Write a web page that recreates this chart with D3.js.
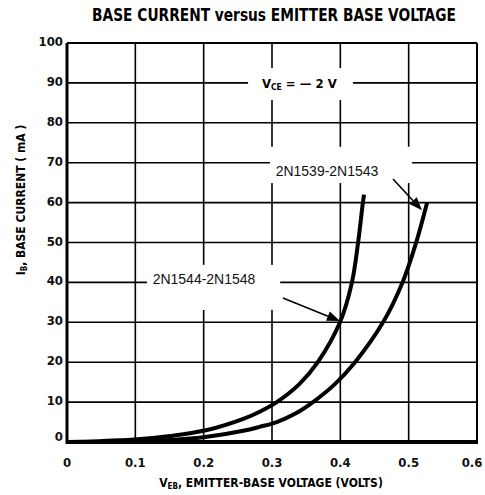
<!DOCTYPE html>
<html><head><meta charset="utf-8">
<script src="https://cdn.jsdelivr.net/npm/d3@7"></script>
<style>body{margin:0;background:#fff}svg{display:block}</style>
</head><body>
<script>
// Data
const xTicks = [0, 0.1, 0.2, 0.3, 0.4, 0.5, 0.6];
const yTicks = [0, 10, 20, 30, 40, 50, 60, 70, 80, 90, 100];
const curve1544 = [[0,0],[0.048,0.2],[0.098,0.6],[0.151,1.5],[0.205,3],[0.258,5.8],[0.282,7.6],[0.307,10],[0.34,14.5],[0.367,20],[0.3995,30],[0.417,40],[0.426,50],[0.433,60],[0.4347,62]];
const curve1539 = [[0,0],[0.098,0.2],[0.151,0.5],[0.205,1.3],[0.258,2.8],[0.282,3.8],[0.307,5],[0.335,7.2],[0.36,10],[0.392,14.5],[0.4215,20],[0.4625,30],[0.491,40],[0.511,50],[0.527,60]];
const seriesNames = ["2N1544-2N1548", "2N1539-2N1543"];
const titleText = "BASE CURRENT versus EMITTER BASE VOLTAGE";

const W = 485, H = 495;
const svg = d3.select("body").append("svg").attr("width", W).attr("height", H);
const x = d3.scaleLinear().domain([0, 0.6]).range([67, 477]);
const y = d3.scaleLinear().domain([0, 100]).range([442, 43]);
const font = "'DejaVu Sans Condensed', 'Liberation Sans Narrow', sans-serif";

// gridlines
const g = svg.append("g");
g.selectAll(".vg").data(xTicks.slice(1, -1)).join("line")
  .attr("x1", d => x(d)).attr("x2", d => x(d)).attr("y1", y(100)).attr("y2", y(0))
  .attr("stroke", "#000").attr("stroke-width", 1.6);
g.selectAll(".hg").data(yTicks.slice(1, -1)).join("line")
  .attr("x1", x(0)).attr("x2", x(0.6)).attr("y1", d => y(d)).attr("y2", d => y(d))
  .attr("stroke", "#000").attr("stroke-width", 1.6);

// label boxes (white) breaking the grid
const boxes = [
  [0.265, 93.7, 0.4185, 85.7],
  [0.297, 74.0, 0.505, 64.9],
  [0.117, 44.4, 0.312, 33.1]
];
svg.selectAll(".box").data(boxes).join("rect")
  .attr("x", d => x(d[0])).attr("y", d => y(d[1]))
  .attr("width", d => x(d[2]) - x(d[0])).attr("height", d => y(d[3]) - y(d[1]))
  .attr("fill", "#fff");

// frame
svg.append("line").attr("x1", x(0)).attr("x2", x(0.6)).attr("y1", y(100)).attr("y2", y(100)).attr("stroke", "#000").attr("stroke-width", 2);
svg.append("line").attr("x1", x(0.6)).attr("x2", x(0.6)).attr("y1", y(100)).attr("y2", y(0)).attr("stroke", "#000").attr("stroke-width", 2);
svg.append("line").attr("x1", x(0)).attr("x2", x(0)).attr("y1", y(100)).attr("y2", y(0) + 2).attr("stroke", "#000").attr("stroke-width", 3);
svg.append("line").attr("x1", x(0) - 1).attr("x2", x(0.6) + 1).attr("y1", y(0)).attr("y2", y(0)).attr("stroke", "#000").attr("stroke-width", 4);

// curves
const line = d3.line().x(d => x(d[0])).y(d => y(d[1])).curve(d3.curveCatmullRom.alpha(0.5));
[curve1544, curve1539].forEach(c => {
  svg.append("path").attr("d", line(c)).attr("fill", "none").attr("stroke", "#000")
    .attr("stroke-width", 4).attr("stroke-linecap", "butt").attr("stroke-linejoin", "round");
});

// tick labels
svg.selectAll(".yl").data(yTicks).join("text")
  .attr("x", 63).attr("y", d => y(d) + (d === 0 ? -1 : 3)).attr("text-anchor", "end")
  .attr("font-family", font).attr("font-size", 13).attr("font-weight", "bold").attr("fill", "#111")
  .text(d => d);
svg.selectAll(".xl").data(xTicks).join("text")
  .attr("x", d => x(d) - (d === 0.6 ? 5 : 0)).attr("y", 467).attr("text-anchor", "middle")
  .attr("font-family", font).attr("font-size", 13).attr("font-weight", "bold").attr("fill", "#111")
  .text(d => d === 0 ? "0" : d.toFixed(1));

// title (horizontally condensed)
svg.append("text").attr("transform", "translate(274,21) scale(0.9,1)").attr("text-anchor", "middle")
  .attr("font-family", font).attr("font-size", 17).attr("font-weight", "bold")
  .text(titleText);

// axis titles
const xt = svg.append("text").attr("x", 271).attr("y", 487).attr("text-anchor", "middle")
  .attr("font-family", font).attr("font-size", 12).attr("font-weight", "bold");
xt.append("tspan").text("V");
xt.append("tspan").attr("font-size", 8).attr("dy", 2).text("EB");
xt.append("tspan").attr("dy", -2).text(", EMITTER-BASE VOLTAGE (VOLTS)");

const yt = svg.append("text").attr("transform", "translate(25,200) rotate(-90)").attr("text-anchor", "middle")
  .attr("font-family", font).attr("font-size", 12).attr("font-weight", "bold");
yt.append("tspan").text("I");
yt.append("tspan").attr("font-size", 8).attr("dy", 2).text("B");
yt.append("tspan").attr("dy", -2).text(",  BASE CURRENT   ( mA )");

// VCE annotation
const vt = svg.append("text").attr("x", x(0.34)).attr("y", y(90) + 5).attr("text-anchor", "middle")
  .attr("font-family", font).attr("font-size", 13).attr("font-weight", "bold");
vt.append("tspan").text("V");
vt.append("tspan").attr("font-size", 8.5).attr("dy", 2).text("CE");
vt.append("tspan").attr("dy", -2).text(" = — 2 V");

// series labels
const labels = [
  {name: seriesNames[1], lx: 0.3805, ly: 67.9, ax: 0.477, ay: 65.9, tx: 0.5195, ty: 58.1},
  {name: seriesNames[0], lx: 0.2005, ly: 40.85, ax: 0.316, ay: 36.1, tx: 0.3995, ty: 30.3}
];
labels.forEach(l => {
  svg.append("text").attr("x", x(l.lx)).attr("y", y(l.ly) + 5).attr("text-anchor", "middle")
    .attr("font-family", "'Liberation Sans', Arial, sans-serif").attr("font-size", 14).attr("fill", "#111")
    .text(l.name);
  const x1 = x(l.ax), y1 = y(l.ay), x2 = x(l.tx), y2 = y(l.ty);
  const ang = Math.atan2(y2 - y1, x2 - x1), len = 13, hw = 5;
  const bx = x2 - len * Math.cos(ang), by = y2 - len * Math.sin(ang);
  svg.append("line").attr("x1", x1).attr("y1", y1).attr("x2", bx).attr("y2", by)
    .attr("stroke", "#000").attr("stroke-width", 1.6);
  svg.append("path").attr("d", `M${x2},${y2}L${bx - hw * Math.sin(ang)},${by + hw * Math.cos(ang)}L${bx + hw * Math.sin(ang)},${by - hw * Math.cos(ang)}Z`)
    .attr("fill", "#000");
});
</script>
</body></html>
